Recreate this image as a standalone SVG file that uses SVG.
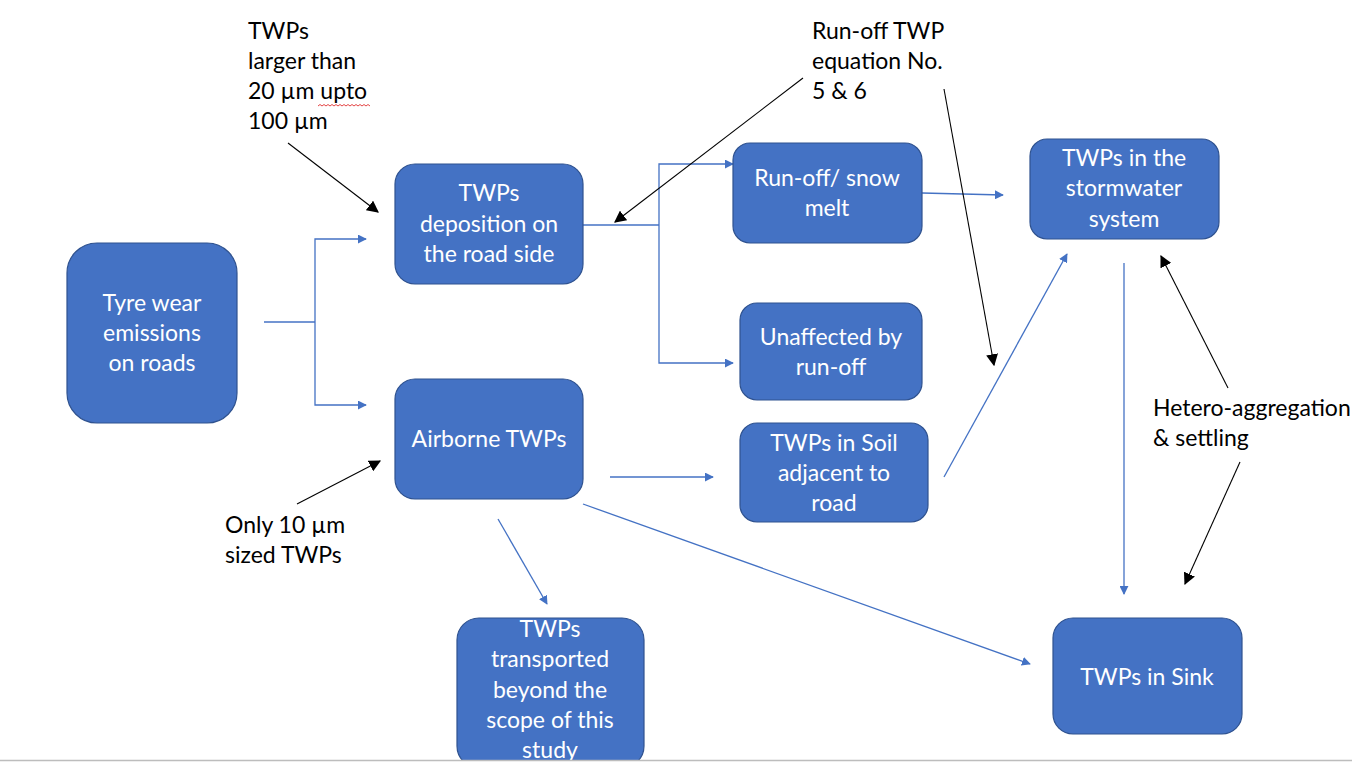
<svg xmlns="http://www.w3.org/2000/svg" width="1352" height="762" viewBox="0 0 1352 762">
<style>
  .node rect { fill: #4472C4; stroke: #2F528F; stroke-width: 1.2; }
  .node text { fill: #FFFFFF; font-family: Lato, "Liberation Sans", sans-serif; font-size: 23px; text-anchor: middle; }
  .note { fill: #000000; font-family: Lato, "Liberation Sans", sans-serif; font-size: 23px; }
  .blue { stroke: #4472C4; stroke-width: 1.3; fill: none; }
  .blk { stroke: #000000; stroke-width: 1.1; fill: none; }
</style>
<defs>
  <marker id="ab" viewBox="0 0 10 10" refX="9" refY="5" markerWidth="9" markerHeight="9" markerUnits="userSpaceOnUse" orient="auto">
    <path d="M0,0 L10,5 L0,10 Z" fill="#4472C4"/>
  </marker>
  <marker id="ak" viewBox="0 0 10 10" refX="9" refY="5" markerWidth="12" markerHeight="12" markerUnits="userSpaceOnUse" orient="auto">
    <path d="M0,0 L10,5 L0,10 Z" fill="#000000"/>
  </marker>
</defs>
<rect width="1352" height="762" fill="#FFFFFF"/>

<g id="connectors">
  <polyline class="blue" points="264,322 315,322"/>
  <polyline class="blue" points="315,322 315,239 366,239" marker-end="url(#ab)"/>
  <polyline class="blue" points="315,322 315,405 366,405" marker-end="url(#ab)"/>
  <polyline class="blue" points="583,225 659,225"/>
  <polyline class="blue" points="659,225 659,164 733,164" marker-end="url(#ab)"/>
  <polyline class="blue" points="659,225 659,363 733,363" marker-end="url(#ab)"/>
  <line class="blue" x1="922" y1="193" x2="1003" y2="195" marker-end="url(#ab)"/>
  <line class="blue" x1="610" y1="477" x2="713" y2="477" marker-end="url(#ab)"/>
  <line class="blue" x1="944" y1="477" x2="1067" y2="254" marker-end="url(#ab)"/>
  <line class="blue" x1="498" y1="519" x2="547" y2="604" marker-end="url(#ab)"/>
  <line class="blue" x1="583" y1="504" x2="1030" y2="664" marker-end="url(#ab)"/>
  <line class="blue" x1="1124" y1="263" x2="1124" y2="594" marker-end="url(#ab)"/>
  <line class="blk" x1="288" y1="143" x2="378" y2="212" marker-end="url(#ak)"/>
  <line class="blk" x1="297" y1="504" x2="380" y2="461" marker-end="url(#ak)"/>
  <line class="blk" x1="803" y1="78" x2="615" y2="222" marker-end="url(#ak)"/>
  <line class="blk" x1="944" y1="89" x2="994" y2="365" marker-end="url(#ak)"/>
  <line class="blk" x1="1228" y1="388" x2="1161" y2="256" marker-end="url(#ak)"/>
  <line class="blk" x1="1240" y1="462" x2="1185" y2="584" marker-end="url(#ak)"/>
</g>

<g id="n-tyre" class="node">
  <rect x="67" y="243" width="170" height="180" rx="30"/>
  <text x="152" y="311">Tyre wear</text>
  <text x="152" y="341">emissions</text>
  <text x="152" y="371">on roads</text>
</g>
<g id="n-deposition" class="node">
  <rect x="395" y="164" width="188" height="120" rx="20"/>
  <text x="489" y="201">TWPs</text>
  <text x="489" y="232">deposition on</text>
  <text x="489" y="262">the road side</text>
</g>
<g id="n-airborne" class="node">
  <rect x="395" y="379" width="188" height="120" rx="20"/>
  <text x="489" y="447">Airborne TWPs</text>
</g>
<g id="n-runoff" class="node">
  <rect x="733" y="143" width="189" height="100" rx="17"/>
  <text x="827" y="186">Run-off/ snow</text>
  <text x="827" y="216">melt</text>
</g>
<g id="n-unaffected" class="node">
  <rect x="740" y="303" width="182" height="97" rx="17"/>
  <text x="831" y="345">Unaffected by</text>
  <text x="831" y="375">run-off</text>
</g>
<g id="n-soil" class="node">
  <rect x="740" y="423" width="188" height="99" rx="17"/>
  <text x="834" y="451">TWPs in Soil</text>
  <text x="834" y="481">adjacent to</text>
  <text x="834" y="511">road</text>
</g>
<g id="n-stormwater" class="node">
  <rect x="1030" y="139" width="189" height="100" rx="17"/>
  <text x="1124" y="166">TWPs in the</text>
  <text x="1124" y="196">stormwater</text>
  <text x="1124" y="227">system</text>
</g>
<g id="n-sink" class="node">
  <rect x="1053" y="618" width="189" height="116" rx="20"/>
  <text x="1147" y="685">TWPs in Sink</text>
</g>
<g id="n-transported" class="node">
  <rect x="457" y="618" width="187" height="150" rx="22"/>
  <text x="550" y="637">TWPs</text>
  <text x="550" y="667">transported</text>
  <text x="550" y="698">beyond the</text>
  <text x="550" y="728">scope of this</text>
  <text x="550" y="758">study</text>
</g>

<g id="annotations">
  <text class="note" x="248" y="39">TWPs</text>
  <text class="note" x="248" y="69">larger than</text>
  <text class="note" x="248" y="99">20 µm upto</text>
  <text class="note" x="248" y="129">100 µm</text>
  <path d="M318,106 l2,-1.5 l2,1.5 l2,-1.5 l2,1.5 l2,-1.5 l2,1.5 l2,-1.5 l2,1.5 l2,-1.5 l2,1.5 l2,-1.5 l2,1.5 l2,-1.5 l2,1.5 l2,-1.5 l2,1.5 l2,-1.5 l2,1.5 l2,-1.5 l2,1.5 l2,-1.5 l2,1.5 l2,-1.5 l2,1.5 l2,-1.5 l2,1.5" fill="none" stroke="#E03030" stroke-width="0.9"/>
  <text class="note" x="812" y="39">Run-off TWP</text>
  <text class="note" x="812" y="69">equation No.</text>
  <text class="note" x="812" y="99">5 &amp; 6</text>
  <text class="note" x="225" y="533">Only 10 µm</text>
  <text class="note" x="225" y="563">sized TWPs</text>
  <text class="note" x="1153" y="416">Hetero-aggregation</text>
  <text class="note" x="1153" y="446">&amp; settling</text>
</g>

<rect x="0" y="761" width="1352" height="1" fill="#FFFFFF"/>
<line x1="0" y1="760.5" x2="1352" y2="760.5" stroke="#BDBDBD" stroke-width="1.5"/>
</svg>
